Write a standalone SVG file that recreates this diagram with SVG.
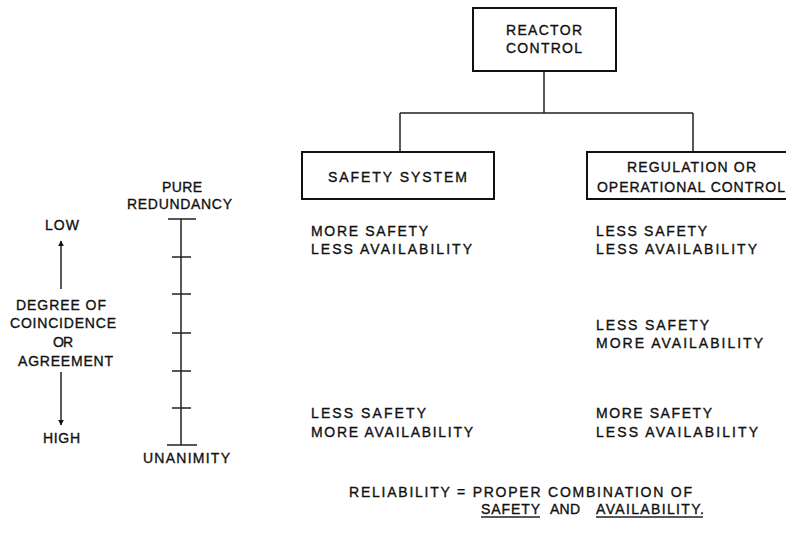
<svg xmlns="http://www.w3.org/2000/svg" width="786" height="533" viewBox="0 0 786 533">
<defs>
<style>
text{font-family:"Liberation Sans","DejaVu Sans",Arial,sans-serif;font-size:14px;fill:#111;stroke:#111;stroke-width:0.35}
.box{fill:#fff;stroke:#111;stroke-width:2}
.ln{fill:none;stroke:#222;stroke-width:1.5}
</style>
<marker id="ah" viewBox="0 0 10 10" refX="9" refY="5" markerWidth="6" markerHeight="8" markerUnits="userSpaceOnUse" orient="auto">
<path d="M0,0 L10,5 L0,10 Z" fill="#111"/>
</marker>
</defs>
<rect width="786" height="533" fill="#fff"/>

<g id="connectors">
<path class="ln" d="M544,71 V113 M400,113 H693 M400,113 V152 M693,113 V152"/>
</g>

<g id="reactor-control">
<rect class="box" x="473" y="8" width="143" height="63"/>
<text x="506" y="35" textLength="76" lengthAdjust="spacing">REACTOR</text>
<text x="506" y="53" textLength="76" lengthAdjust="spacing">CONTROL</text>
</g>

<g id="safety-system">
<rect class="box" x="302" y="152" width="192" height="47"/>
<text x="328" y="182" textLength="139" lengthAdjust="spacing">SAFETY SYSTEM</text>
</g>

<g id="regulation">
<rect class="box" x="587" y="152" width="220" height="47"/>
<text x="627" y="172" textLength="129" lengthAdjust="spacing">REGULATION OR</text>
<text x="597" y="192" textLength="188" lengthAdjust="spacing">OPERATIONAL CONTROL</text>
</g>

<g id="safety-texts">
<text x="311" y="236" textLength="117" lengthAdjust="spacing">MORE SAFETY</text>
<text x="311" y="254" textLength="161" lengthAdjust="spacing">LESS AVAILABILITY</text>
<text x="311" y="418" textLength="115" lengthAdjust="spacing">LESS SAFETY</text>
<text x="311" y="437" textLength="162" lengthAdjust="spacing">MORE AVAILABILITY</text>
</g>

<g id="regulation-texts">
<text x="596" y="236" textLength="111" lengthAdjust="spacing">LESS SAFETY</text>
<text x="596" y="254" textLength="161" lengthAdjust="spacing">LESS AVAILABILITY</text>
<text x="596" y="330" textLength="113" lengthAdjust="spacing">LESS SAFETY</text>
<text x="596" y="348" textLength="167" lengthAdjust="spacing">MORE AVAILABILITY</text>
<text x="596" y="418" textLength="116" lengthAdjust="spacing">MORE SAFETY</text>
<text x="596" y="437" textLength="162" lengthAdjust="spacing">LESS AVAILABILITY</text>
</g>

<g id="scale">
<text x="162" y="192" textLength="40" lengthAdjust="spacing">PURE</text>
<text x="127" y="209" textLength="105" lengthAdjust="spacing">REDUNDANCY</text>
<path class="ln" d="M181,219 V445 M168,219 H196 M172,257 H191 M172,294 H191 M172,333 H191 M172,371 H191 M172,408 H191 M167,445 H197"/>
<text x="143" y="463" textLength="87" lengthAdjust="spacing">UNANIMITY</text>
</g>

<g id="degree">
<text x="45" y="230" textLength="34" lengthAdjust="spacing">LOW</text>
<path class="ln" d="M61,289 V241" marker-end="url(#ah)"/>
<text x="16" y="310" textLength="90" lengthAdjust="spacing">DEGREE OF</text>
<text x="10" y="328" textLength="106" lengthAdjust="spacing">COINCIDENCE</text>
<text x="53" y="347" textLength="20" lengthAdjust="spacing">OR</text>
<text x="18" y="366" textLength="95" lengthAdjust="spacing">AGREEMENT</text>
<path class="ln" d="M61,372 V425" marker-end="url(#ah)"/>
<text x="43" y="443" textLength="37" lengthAdjust="spacing">HIGH</text>
</g>

<g id="reliability">
<text x="349" y="497" textLength="343" lengthAdjust="spacing">RELIABILITY = PROPER COMBINATION OF</text>
<text x="481" y="514" textLength="59" lengthAdjust="spacing">SAFETY</text>
<text x="550" y="514" textLength="30" lengthAdjust="spacing">AND</text>
<text x="596" y="514" textLength="108" lengthAdjust="spacing">AVAILABILITY.</text>
<path class="ln" d="M481,517 H540 M596,517 H703" stroke-width="1.2"/>
</g>
</svg>
